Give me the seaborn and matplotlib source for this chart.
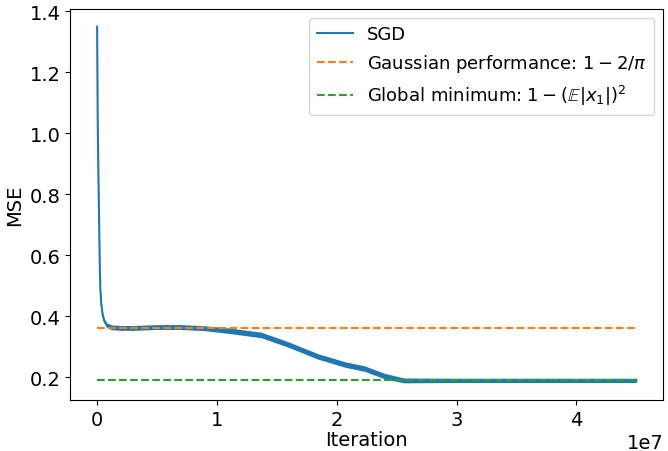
import numpy as np
import pandas as pd
import seaborn as sns
import matplotlib
matplotlib.use("Agg")
import matplotlib.pyplot as plt

# values (iteration in units of 1e7)
iters = [0.0, 0.005, 0.01, 0.015, 0.019, 0.023, 0.027, 0.035, 0.047, 0.06, 0.08, 0.12, 0.2, 0.3,
         0.5, 0.7, 0.9, 1.1, 1.37, 1.6, 1.84, 2.07, 2.23, 2.4, 2.56, 3.0, 3.5, 4.0, 4.5]
mse = [1.35, 1.05, 0.89, 0.76, 0.653, 0.56, 0.49, 0.44, 0.404, 0.385, 0.371, 0.364, 0.362, 0.362,
       0.365, 0.365, 0.361, 0.353, 0.339, 0.307, 0.269, 0.242, 0.229, 0.204, 0.19, 0.19, 0.19, 0.19, 0.19]
# half-width of the noisy band around the SGD curve
spread = [0.0, 0.003, 0.004, 0.005, 0.005, 0.006, 0.006, 0.007, 0.007, 0.007, 0.008, 0.008, 0.008, 0.008,
          0.008, 0.008, 0.008, 0.009, 0.009, 0.009, 0.009, 0.009, 0.009, 0.009, 0.008, 0.007, 0.007, 0.007, 0.007]
gauss_perf = 1 - 2 / np.pi
global_min = 0.19
x_end = 4.5

plt.rcParams["font.size"] = 14

df = pd.DataFrame({"Iteration": np.array(iters) * 1e7, "MSE": mse})
lo = np.array(mse) - np.array(spread)
hi = np.array(mse) + np.array(spread)

fig, ax = plt.subplots(figsize=(6.68, 4.52), dpi=100)
fig.subplots_adjust(left=0.105, right=0.993, top=0.978, bottom=0.113)

sns.lineplot(data=df, x="Iteration", y="MSE", ax=ax, color="C0", lw=1.5, label="SGD")
ax.fill_between(df["Iteration"], lo, hi, color="C0", lw=0)

ref = pd.DataFrame({"Iteration": [0, x_end * 1e7]})
sns.lineplot(x=ref["Iteration"], y=[gauss_perf, gauss_perf], ax=ax, color="C1", ls="--",
             label=r"Gaussian performance: $1-2/\pi$")
sns.lineplot(x=ref["Iteration"], y=[global_min, global_min], ax=ax, color="C2", ls="--",
             label=r"Global minimum: $1-(\mathbb{E}|x_1|)^2$")

ax.set_xlabel("Iteration", labelpad=1)
ax.set_ylabel("MSE")
ax.set_xlim(-0.225e7, 4.725e7)
ax.set_ylim(0.126, 1.408)
ax.set_yticks([0.2, 0.4, 0.6, 0.8, 1.0, 1.2, 1.4])
ax.legend(loc="upper right", fontsize=13)

fig.savefig("out.png", dpi=100)
